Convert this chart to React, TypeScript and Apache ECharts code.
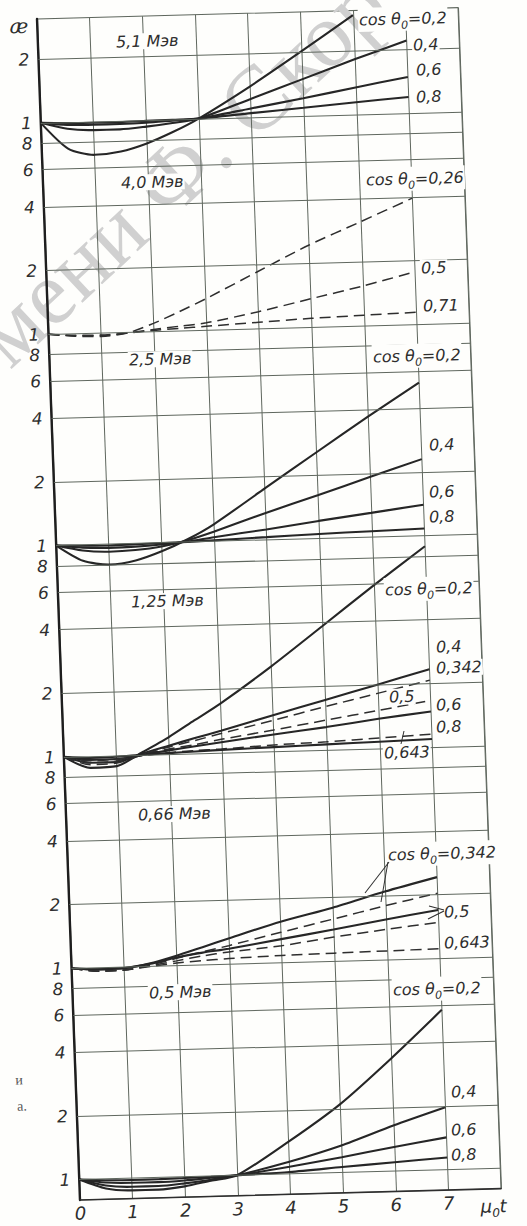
import React, { useEffect, useRef } from "react";
import * as echarts from "echarts";

// ---------- data ----------
// abscissa samples (mu0 * t)
const MU_T = [0, 0.5, 1, 1.5, 2, 2.5, 3, 4, 5, 6, 7];

// 5,1 MeV (solid)
const E51_C02 = [1.0, 0.75, 0.695, 0.715, 0.775, 0.87, 1.0, 1.4, 2.02, 2.95, null];
const E51_C04 = [1.0, 0.93, 0.91, 0.91, 0.93, 0.96, 1.0, 1.22, 1.49, 1.82, 2.2];
const E51_C06 = [1.0, 0.97, 0.965, 0.965, 0.97, 0.985, 1.0, 1.1, 1.21, 1.34, 1.48];
const E51_C08 = [1.0, 0.99, 0.985, 0.985, 0.99, 0.995, 1.0, 1.045, 1.09, 1.14, 1.19];

// 4,0 MeV (dashed)
const E40_C026 = [1.0, 0.97, 0.96, 0.99, 1.09, 1.23, 1.4, 1.85, 2.44, 3.1, 3.95];
const E40_C05 = [1.0, 0.975, 0.97, 0.99, 1.02, 1.05, 1.08, 1.2, 1.36, 1.54, 1.77];
const E40_C071 = [1.0, 0.98, 0.975, 0.99, 1.01, 1.025, 1.04, 1.07, 1.1, 1.12, 1.14];

// 2,5 MeV (solid)
const E25_C02 = [1.0, 0.84, 0.8, 0.83, 0.91, 1.03, 1.2, 1.75, 2.55, 3.7, 5.3];
const E25_C04 = [1.0, 0.94, 0.92, 0.93, 0.96, 1.02, 1.11, 1.34, 1.6, 1.92, 2.3];
const E25_C06 = [1.0, 0.97, 0.96, 0.965, 0.98, 1.005, 1.045, 1.12, 1.21, 1.3, 1.4];
const E25_C08 = [1.0, 0.99, 0.985, 0.99, 0.995, 1.0, 1.01, 1.03, 1.05, 1.065, 1.08];

// 1,25 MeV
const E125_C02 = [1.0, 0.88, 0.89, 1.03, 1.2, 1.43, 1.7, 2.52, 3.85, 5.9, 8.9];
const E125_C04 = [1.0, 0.93, 0.93, 1.015, 1.095, 1.18, 1.27, 1.48, 1.72, 2.0, 2.33];
const E125_C0342 = [1.0, 0.91, 0.92, 1.0, 1.08, 1.15, 1.23, 1.4, 1.6, 1.82, 2.07];
const E125_C05 = [1.0, 0.93, 0.94, 1.0, 1.055, 1.1, 1.155, 1.26, 1.38, 1.51, 1.66];
const E125_C06 = [1.0, 0.96, 0.96, 1.0, 1.04, 1.08, 1.12, 1.2, 1.28, 1.38, 1.47];
const E125_C0643 = [1.0, 0.95, 0.96, 0.99, 1.015, 1.03, 1.04, 1.07, 1.09, 1.12, 1.15];
const E125_C08 = [1.0, 0.98, 0.985, 1.0, 1.01, 1.02, 1.03, 1.045, 1.06, 1.075, 1.09];

// 0,66 MeV (s = solid, d = dashed)
const E066_C0342S = [1.0, 0.98, 0.985, 1.03, 1.11, 1.21, 1.32, 1.56, 1.79, 2.1, 2.42];
const E066_C0342D = [1.0, 0.96, 0.965, 1.01, 1.08, 1.15, 1.22, 1.39, 1.58, 1.8, 2.03];
const E066_C05S = [1.0, 0.98, 0.985, 1.025, 1.09, 1.14, 1.18, 1.29, 1.41, 1.55, 1.69];
const E066_C05D = [1.0, 0.96, 0.965, 1.005, 1.05, 1.1, 1.14, 1.2, 1.3, 1.39, 1.48];
const E066_C0643D = [1.0, 0.96, 0.965, 0.995, 1.025, 1.045, 1.06, 1.08, 1.09, 1.1, 1.11];

// 0,5 MeV (solid)
const E05_C02 = [1.0, 0.9, 0.875, 0.875, 0.9, 0.95, 1.0, 1.42, 2.1, 3.4, 5.7];
const E05_C04 = [1.0, 0.93, 0.91, 0.91, 0.93, 0.96, 1.0, 1.14, 1.34, 1.64, 1.97];
const E05_C06 = [1.0, 0.96, 0.95, 0.95, 0.96, 0.98, 1.0, 1.08, 1.18, 1.3, 1.42];
const E05_C08 = [1.0, 0.985, 0.98, 0.98, 0.985, 0.99, 1.0, 1.02, 1.06, 1.1, 1.14];

// axes
const X_MIN = 0;
const X_MAX = 8;
const X_STEP = 1;
const Y_MIN = 0.8;
const Y_MAX = 3.1e5;
const GRID_DIGITS = [1, 2, 4, 6, 8];
const DECADES = [1, 10, 100, 1000, 10000, 100000];

// curve list: values, panel index (0 = top), dashed?
const CURVES: { v: (number | null)[]; panel: number; dashed: boolean }[] = [
  { v: E51_C02, panel: 0, dashed: false },
  { v: E51_C04, panel: 0, dashed: false },
  { v: E51_C06, panel: 0, dashed: false },
  { v: E51_C08, panel: 0, dashed: false },
  { v: E40_C026, panel: 1, dashed: true },
  { v: E40_C05, panel: 1, dashed: true },
  { v: E40_C071, panel: 1, dashed: true },
  { v: E25_C02, panel: 2, dashed: false },
  { v: E25_C04, panel: 2, dashed: false },
  { v: E25_C06, panel: 2, dashed: false },
  { v: E25_C08, panel: 2, dashed: false },
  { v: E125_C02, panel: 3, dashed: false },
  { v: E125_C04, panel: 3, dashed: false },
  { v: E125_C0342, panel: 3, dashed: true },
  { v: E125_C05, panel: 3, dashed: true },
  { v: E125_C06, panel: 3, dashed: false },
  { v: E125_C0643, panel: 3, dashed: true },
  { v: E125_C08, panel: 3, dashed: false },
  { v: E066_C0342S, panel: 4, dashed: false },
  { v: E066_C0342D, panel: 4, dashed: true },
  { v: E066_C05S, panel: 4, dashed: false },
  { v: E066_C05D, panel: 4, dashed: true },
  { v: E066_C0643D, panel: 4, dashed: true },
  { v: E05_C02, panel: 5, dashed: false },
  { v: E05_C04, panel: 5, dashed: false },
  { v: E05_C06, panel: 5, dashed: false },
  { v: E05_C08, panel: 5, dashed: false },
];

// ---------- layout / style ----------
const INK = "#2e2e2e";
const GRID_C = "#5f675e";
const BG = "#fefefc";
const FONT = "'DejaVu Sans', 'Liberation Sans', sans-serif";
const SERIF = "'Liberation Serif', 'DejaVu Serif', serif";

// page skew of the scanned sheet
const SK_A = 0.0364; // x shift per px down
const SK_B = -0.027; // y shift per px right
const OX = 37;
const OY = 19;
const SHIFT = 60;

function img2div(x: number, y: number): [number, number] {
  const p = x - OX;
  const q = y - OY;
  const det = 1 - SK_A * SK_B;
  const dx = (p - SK_A * q) / det;
  const dy = (q - SK_B * p) / det;
  return [OX + SHIFT + dx, OY + dy];
}

const cos = (v: string) => `{n|cos θ}{s|0}{n|=${v}}`;

// text labels: [text, left x, middle y] in page pixels
const LABELS: [string, number, number][] = [
  ["5,1 Мэв", 115, 42],
  [cos("0,2"), 358, 20],
  ["0,4", 412, 45],
  ["0,6", 415, 70],
  ["0,8", 415, 97],
  ["4,0 Мэв", 120, 183],
  [cos("0,26"), 365, 180],
  ["0,5", 420, 268],
  ["0,71", 422, 306],
  ["2,5 Мэв", 128, 360],
  [cos("0,2"), 372, 357],
  ["0,4", 428, 445],
  ["0,6", 428, 492],
  ["0,8", 428, 517],
  ["1,25 Мэв", 130, 602],
  [cos("0,2"), 384, 590],
  ["0,4", 435, 647],
  ["0,342", 435, 668],
  ["0,5", 388, 697],
  ["0,6", 435, 705],
  ["0,8", 435, 727],
  ["0,643", 383, 753],
  ["0,66 Мэв", 137, 815],
  [cos("0,342"), 387, 855],
  ["0,5", 443, 912],
  ["0,643", 443, 943],
  ["0,5 Мэв", 148, 993],
  [cos("0,2"), 392, 990],
  ["0,4", 450, 1092],
  ["0,6", 450, 1130],
  ["0,8", 450, 1155],
];

// leader strokes: [x1, y1, x2, y2] page pixels
const LEADERS: [number, number, number, number][] = [
  [401, 744, 404, 731],
  [389, 862, 365, 893],
  [388, 862, 381, 902],
  [444, 910, 429, 906],
  [444, 911, 428, 919],
];

const RICH = {
  n: { fontSize: 16, fontStyle: "italic", fontFamily: FONT, color: INK, lineHeight: 24 },
  s: { fontSize: 11, fontStyle: "italic", fontFamily: FONT, color: INK, lineHeight: 24, verticalAlign: "bottom" },
};

function buildOption() {
  const gridValues: { name: string; yAxis: number }[] = [];
  DECADES.forEach((d) =>
    GRID_DIGITS.forEach((g) => {
      const v = g * d;
      if (v >= 1 && v <= Y_MAX) gridValues.push({ name: String(g), yAxis: v });
    })
  );

  const graphic: any[] = [];
  {
    const [wx, wy] = img2div(-11, 348);
    graphic.push({
      type: "text",
      x: wx,
      y: wy,
      rotation: 0.72,
      z: 0,
      silent: true,
      style: {
        text: "мени Ф. Скор",
        fill: "#d0d0d0",
        fontSize: 91,
        fontFamily: SERIF,
        align: "left",
        verticalAlign: "middle",
      },
    });
  }
  LABELS.forEach(([t, x, y]) => {
    const [X, Y] = img2div(x, y);
    graphic.push({
      type: "text",
      x: X,
      y: Y,
      z: 100,
      silent: true,
      style: {
        text: t,
        fill: INK,
        fontSize: 16,
        fontStyle: "italic",
        fontFamily: FONT,
        align: "left",
        verticalAlign: "middle",
        backgroundColor: BG,
        padding: [0, 1],
        rich: RICH,
      },
    });
  });
  LEADERS.forEach(([x1, y1, x2, y2]) => {
    const [a1, b1] = img2div(x1, y1);
    const [a2, b2] = img2div(x2, y2);
    graphic.push({
      type: "line",
      z: 101,
      silent: true,
      shape: { x1: a1, y1: b1, x2: a2, y2: b2 },
      style: { stroke: INK, lineWidth: 1 },
    });
  });
  {
    const [X, Y] = img2div(19, 26);
    graphic.push({
      type: "text",
      x: X,
      y: Y,
      z: 100,
      silent: true,
      style: { text: "æ", fill: INK, fontSize: 20, fontStyle: "italic", fontFamily: "'DejaVu Serif', serif", align: "center", verticalAlign: "middle" },
    });
  }
  [["и", 19, 1080], ["а.", 22, 1106]].forEach(([t, x, y]) => {
    const [X, Y] = img2div(x as number, y as number);
    graphic.push({
      type: "text",
      x: X,
      y: Y,
      z: 100,
      silent: true,
      style: { text: t, fill: "#555", fontSize: 14, fontFamily: SERIF, align: "center", verticalAlign: "middle" },
    });
  });

  const curveSeries = CURVES.map((c) => {
    const f = Math.pow(10, 5 - c.panel);
    const data = MU_T.map((x, i) => (c.v[i] == null ? null : [x, (c.v[i] as number) * f])).filter(
      (p) => p !== null
    );
    return {
      type: "line",
      data,
      smooth: 0.25,
      symbol: "none",
      silent: true,
      z: 3,
      lineStyle: c.dashed
        ? { color: INK, width: 1.5, type: [11, 6] }
        : { color: "#262626", width: 2.1, type: "solid" },
    };
  });

  return {
    animation: false,
    backgroundColor: "transparent",
    grid: {
      left: 97,
      top: 19,
      width: 421,
      height: 1181,
      show: true,
      borderColor: GRID_C,
      borderWidth: 1,
      backgroundColor: "transparent",
    },
    xAxis: {
      type: "value",
      min: X_MIN,
      max: X_MAX,
      interval: X_STEP,
      axisLine: { show: true, onZero: false, lineStyle: { color: INK, width: 1.6 } },
      axisTick: { show: false },
      splitLine: { show: true, lineStyle: { color: GRID_C, width: 1 } },
      axisLabel: {
        margin: 4,
        fontSize: 18,
        fontStyle: "italic",
        fontFamily: FONT,
        color: INK,
        formatter: (v: number) => (v === X_MAX ? "{m|μ}{s|0}{m|t}{g| }" : String(v)),
        rich: {
          m: { fontSize: 18, fontStyle: "italic", fontFamily: FONT, color: INK, lineHeight: 26 },
          s: { fontSize: 12, fontStyle: "italic", fontFamily: FONT, color: INK, lineHeight: 26, verticalAlign: "bottom" },
          g: { fontSize: 12, width: 16, lineHeight: 26 },
        },
      },
    },
    yAxis: {
      type: "log",
      logBase: 10,
      min: Y_MIN,
      max: Y_MAX,
      axisLine: { show: true, onZero: false, lineStyle: { color: "#1e1e1e", width: 2.4 } },
      axisTick: { show: false },
      axisLabel: { show: false },
      splitLine: { show: false },
    },
    graphic,
    series: [
      {
        type: "line",
        data: [[0, 1]],
        symbol: "none",
        silent: true,
        z: 1,
        lineStyle: { opacity: 0 },
        markLine: {
          silent: true,
          symbol: ["none", "none"],
          animation: false,
          lineStyle: { color: GRID_C, width: 1, type: "solid" },
          emphasis: { disabled: true },
          label: {
            show: true,
            position: "start",
            distance: 9,
            formatter: "{b}",
            color: INK,
            fontSize: 17,
            fontStyle: "italic",
            fontFamily: FONT,
          },
          data: gridValues,
        },
      },
      ...curveSeries,
    ],
  };
}

export default function App() {
  const ref = useRef<HTMLDivElement>(null);
  useEffect(() => {
    const chart = echarts.init(ref.current as HTMLDivElement, null, { renderer: "svg" });
    chart.setOption(buildOption() as any);
    return () => chart.dispose();
  }, []);
  return (
    <div
      style={{
        position: "fixed",
        left: 0,
        top: 0,
        width: 527,
        height: 1226,
        overflow: "hidden",
        background: BG,
      }}
    >
      <div
        ref={ref}
        style={{
          position: "absolute",
          left: -SHIFT,
          top: 0,
          width: 660,
          height: 1240,
          transformOrigin: `${OX + SHIFT}px ${OY}px`,
          transform: `matrix(1, ${SK_B}, ${SK_A}, 1, 0, 0)`,
        }}
      />
    </div>
  );
}
